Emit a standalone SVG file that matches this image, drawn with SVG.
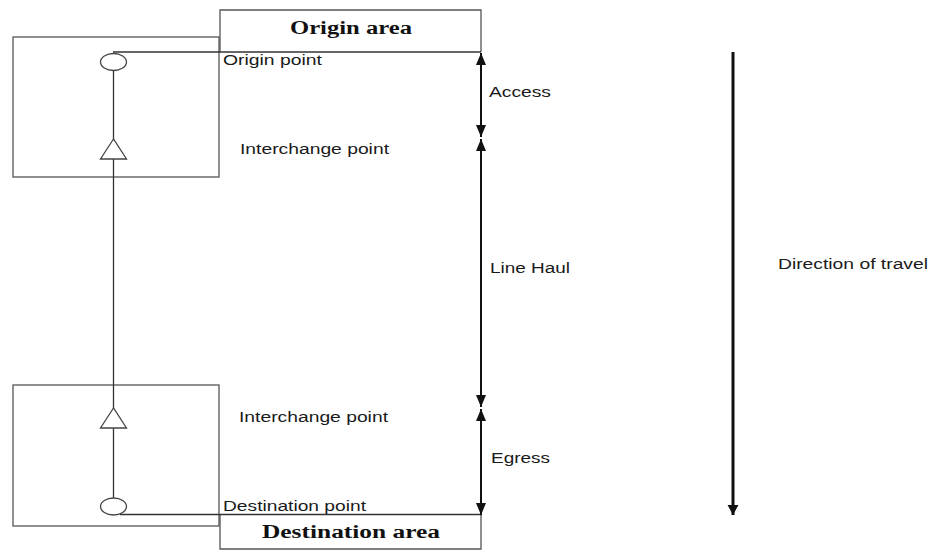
<svg xmlns="http://www.w3.org/2000/svg" width="930" height="550" viewBox="0 0 930 550">
<defs>
<style>
.box{fill:none;stroke:#555;stroke-width:1.3}
.ln{fill:none;stroke:#333;stroke-width:1.3}
.sym{fill:#fff;stroke:#444;stroke-width:1.3}
.t{font-family:"Liberation Sans",Arial,sans-serif;font-size:15.5px;fill:#1a1a1a}
.h{font-family:"Liberation Serif","Times New Roman",serif;font-size:18px;font-weight:bold;fill:#111}
.ax{fill:none;stroke:#111;stroke-width:2}
.dir{fill:none;stroke:#111;stroke-width:3}
</style>
<marker id="ah" viewBox="0 0 12 10" refX="12" refY="5" markerWidth="12" markerHeight="10" markerUnits="userSpaceOnUse" orient="auto-start-reverse">
<path d="M0,0 L12,5 L0,10 Z" fill="#111"/>
</marker>
<marker id="ahd" viewBox="0 0 12 12" refX="11" refY="6" markerWidth="11" markerHeight="12" markerUnits="userSpaceOnUse" orient="auto">
<path d="M0,0 L11,6 L0,12 Z" fill="#111"/>
</marker>
</defs>
<rect width="930" height="550" fill="#fff"/>

<g id="origin-zone">
<rect class="box" x="13" y="37" width="206" height="140"/>
</g>
<g id="destination-zone">
<rect class="box" x="13" y="385" width="206" height="141"/>
</g>
<g id="origin-area">
<path class="box" d="M220,52 V10 H481 V52"/>
<text class="h" x="351" y="34" text-anchor="middle" textLength="122" lengthAdjust="spacingAndGlyphs">Origin area</text>
</g>
<g id="destination-area">
<path class="box" d="M220,515 V549 H481 V515"/>
<text class="h" x="351" y="538" text-anchor="middle" textLength="178" lengthAdjust="spacingAndGlyphs">Destination area</text>
</g>

<g id="connectors">
<line class="ln" x1="113" y1="52" x2="481" y2="52"/>
<line class="ln" x1="120" y1="514.5" x2="481" y2="514.5"/>
<line class="ln" x1="113.5" y1="70" x2="113.5" y2="499"/>
<line class="ax" x1="481" y1="53" x2="481" y2="137" marker-start="url(#ah)" marker-end="url(#ah)"/>
<line class="ax" x1="481" y1="139" x2="481" y2="407" marker-start="url(#ah)" marker-end="url(#ah)"/>
<line class="ax" x1="481" y1="409" x2="481" y2="515" marker-start="url(#ah)" marker-end="url(#ah)"/>
<line class="dir" x1="733" y1="52" x2="733" y2="515" marker-end="url(#ahd)"/>
</g>

<g id="origin-point">
<ellipse class="sym" cx="113.5" cy="62" rx="13" ry="8.5"/>
<text class="t" x="223" y="65" textLength="99" lengthAdjust="spacingAndGlyphs">Origin point</text>
</g>
<g id="interchange-top">
<polygon class="sym" points="113.5,139 100.5,159 126.5,159"/>
<text class="t" x="240" y="154" textLength="149" lengthAdjust="spacingAndGlyphs">Interchange point</text>
</g>
<g id="interchange-bottom">
<polygon class="sym" points="113.5,408 100.5,428 126.5,428"/>
<text class="t" x="239" y="422" textLength="149" lengthAdjust="spacingAndGlyphs">Interchange point</text>
</g>
<g id="destination-point">
<ellipse class="sym" cx="113.5" cy="506.5" rx="13" ry="8.5"/>
<text class="t" x="223" y="511" textLength="143" lengthAdjust="spacingAndGlyphs">Destination point</text>
</g>

<g id="labels">
<text class="t" x="489" y="97" textLength="62" lengthAdjust="spacingAndGlyphs">Access</text>
<text class="t" x="490" y="273" textLength="80" lengthAdjust="spacingAndGlyphs">Line Haul</text>
<text class="t" x="491" y="463" textLength="59" lengthAdjust="spacingAndGlyphs">Egress</text>
<text class="t" x="778" y="269" textLength="150" lengthAdjust="spacingAndGlyphs">Direction of travel</text>
</g>
</svg>
